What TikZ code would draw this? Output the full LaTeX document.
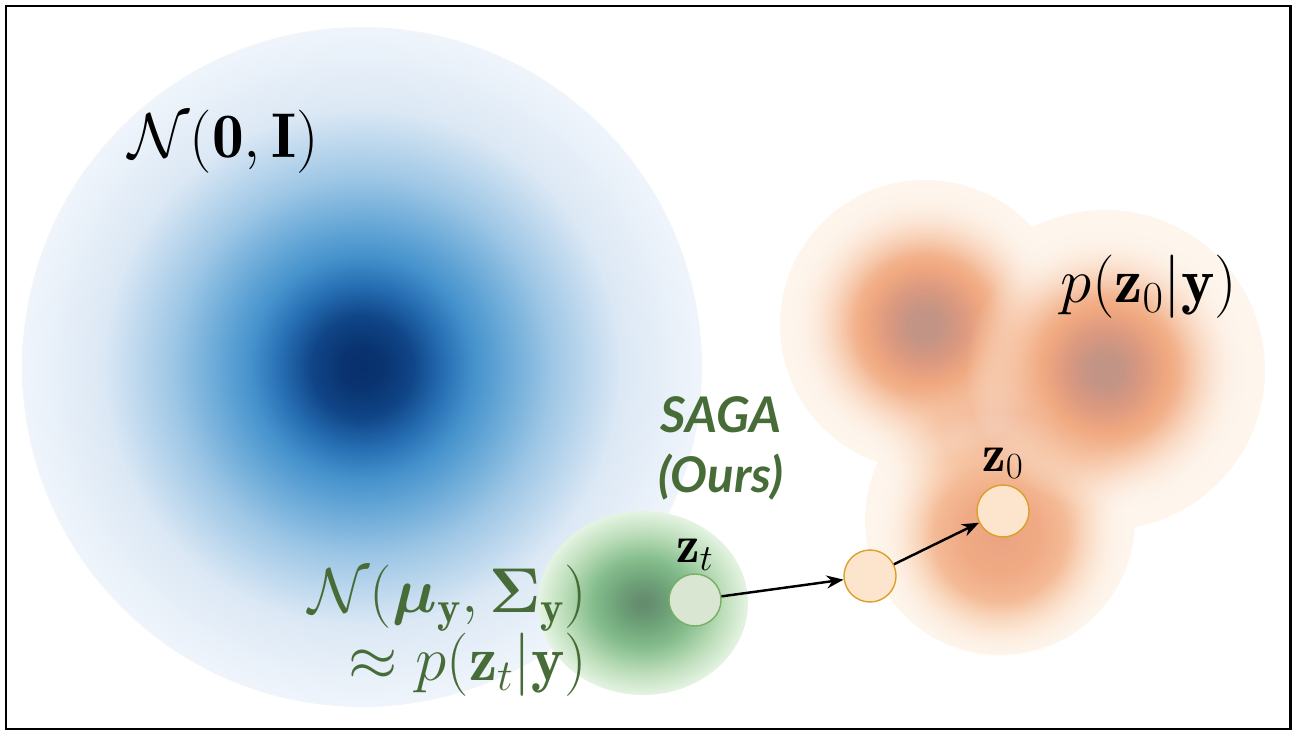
\RequirePackage{fix-cm}
\documentclass[tikz,border=0pt]{standalone}
\usepackage{amsmath,bm}
\usepackage{fontspec}
\newfontfamily\sagafont{Lato}
\usetikzlibrary{positioning,arrows.meta,fadings}

\definecolor{sagagreen}{RGB}{72,108,56}
\definecolor{ptgreenfill}{RGB}{216,230,210}
\definecolor{ptgreendraw}{RGB}{120,175,100}
\definecolor{ptorangefill}{RGB}{253,228,205}
\definecolor{ptorangedraw}{RGB}{220,160,40}
\definecolor{orangepale}{RGB}{254,245,236}

% shadings are fitted so that 25bp is the path's edge
\pgfdeclareradialshading{blueblob}{\pgfpoint{0bp}{0bp}}{%
  rgb(0bp)=(0.03,0.19,0.42); rgb(1.5bp)=(0.035,0.20,0.44);
  rgb(3.7bp)=(0.06,0.27,0.53); rgb(6bp)=(0.15,0.43,0.70);
  rgb(8.2bp)=(0.27,0.57,0.80); rgb(10.3bp)=(0.39,0.65,0.84);
  rgb(14bp)=(0.62,0.78,0.90); rgb(19bp)=(0.86,0.91,0.96);
  rgb(25bp)=(0.94,0.96,0.985); rgb(50bp)=(1,1,1)}
\pgfdeclareradialshading{orangelobe}{\pgfpoint{0bp}{0bp}}{%
  rgb(0bp)=(0.75,0.58,0.53); rgb(3bp)=(0.77,0.58,0.52);
  rgb(7bp)=(0.86,0.60,0.50); rgb(11bp)=(0.94,0.66,0.50);
  rgb(17bp)=(0.97,0.78,0.66); rgb(25bp)=(0.995,0.96,0.925);
  rgb(50bp)=(0.995,0.96,0.925)}
\pgfdeclareradialshading{orangemid}{\pgfpoint{0bp}{0bp}}{%
  rgb(0bp)=(0.92,0.64,0.51); rgb(8bp)=(0.94,0.67,0.52);
  rgb(14bp)=(0.96,0.74,0.60); rgb(19bp)=(0.98,0.84,0.73);
  rgb(25bp)=(0.995,0.96,0.925); rgb(50bp)=(0.995,0.96,0.925)}
\pgfdeclareradialshading{greenblob}{\pgfpoint{0bp}{0bp}}{%
  rgb(0bp)=(0.39,0.55,0.43); rgb(2bp)=(0.40,0.56,0.44);
  rgb(6bp)=(0.43,0.63,0.47); rgb(12bp)=(0.52,0.74,0.55);
  rgb(19bp)=(0.74,0.87,0.73); rgb(25bp)=(0.90,0.955,0.89); rgb(50bp)=(1,1,1)}
\pgfdeclareradialshading{lobefadeshade}{\pgfpoint{0bp}{0bp}}{%
  rgb(0bp)=(1,1,1); rgb(13bp)=(1,1,1); rgb(25bp)=(0,0,0); rgb(50bp)=(0,0,0)}
\pgfdeclarefading{lobefade}{\pgfuseshading{lobefadeshade}}

\begin{document}
\begin{tikzpicture}[
    bigmath/.style={inner sep=0pt, font=\fontsize{36}{38}\selectfont},
    ptmath/.style={inner sep=0pt, font=\fontsize{30}{32}\selectfont},
    ptgreen/.style={circle, minimum size=1.04cm, inner sep=0pt, line width=0.8pt, draw=ptgreendraw, fill=ptgreenfill},
    ptorange/.style={circle, minimum size=1.04cm, inner sep=0pt, line width=0.8pt, draw=ptorangedraw, fill=ptorangefill},
    arr/.style={-{Stealth[length=0.34cm,width=0.26cm]}, line width=1.4pt, black},
  ]
  \path[use as bounding box] (0,0) rectangle (26.04,-14.96);

  % prior N(0,I)
  \shade[shading=blueblob] (7.24,-7.34) circle (6.8);

  % data distribution, three lobes
  \fill[orangepale] (18.5,-6.5) circle (2.9) (22.1,-7.4) circle (3.2)
    (20.0,-10.4) circle (2.7) (20.2,-8.4) circle (2.4);
  \shade[shading=orangemid, path fading=lobefade] (20.3,-8.3) circle (2.9);
  \shade[shading=orangemid, path fading=lobefade] (20.0,-10.7) circle (2.5);
  \shade[shading=orangelobe, path fading=lobefade] (18.5,-6.5) circle (2.7);
  \shade[shading=orangelobe, path fading=lobefade] (22.1,-7.4) circle (2.8);

  % SAGA gaussian
  \shade[shading=greenblob] (12.86,-12.06) ellipse (2.1 and 1.84);

  \draw[line width=1.7pt] (0.12,-0.12) rectangle (25.8,-14.58);

  \node[bigmath] (prior) at (4.48,-2.84) {$\mathcal{N}(\mathbf{0},\mathbf{I})$};
  \node[bigmath] (target) at (22.98,-5.74) {$p(\mathbf{z}_0|\mathbf{y})$};
  \node[bigmath, text=sagagreen, align=right, anchor=east,
        font=\fontsize{36}{38.5}\selectfont] (approx) at (11.75,-12.62)
    {$\mathcal{N}(\bm{\mu}_{\mathbf{y}},\bm{\Sigma}_{\mathbf{y}})$\\$\approx p(\mathbf{z}_t|\mathbf{y})$};
  \node[text=sagagreen, align=center, inner sep=0pt,
        font=\sagafont\bfseries\itshape\fontsize{28}{34}\selectfont] (saga) at (14.42,-8.96) {SAGA\\(Ours)};

  \node[ptgreen] (zt) at (13.9,-12.0) {};
  \node[ptorange] (zm) at (17.4,-11.52) {};
  \node[ptorange] (z0) at (20.06,-10.22) {};
  \node[ptmath, above=0.05cm of zt] (ztlab) {$\mathbf{z}_t$};
  \node[ptmath, above=0.1cm of z0] (z0lab) {$\mathbf{z}_0$};

  \draw[arr] (zt) -- (zm);
  \draw[arr] (zm) -- (z0);
\end{tikzpicture}
\end{document}
